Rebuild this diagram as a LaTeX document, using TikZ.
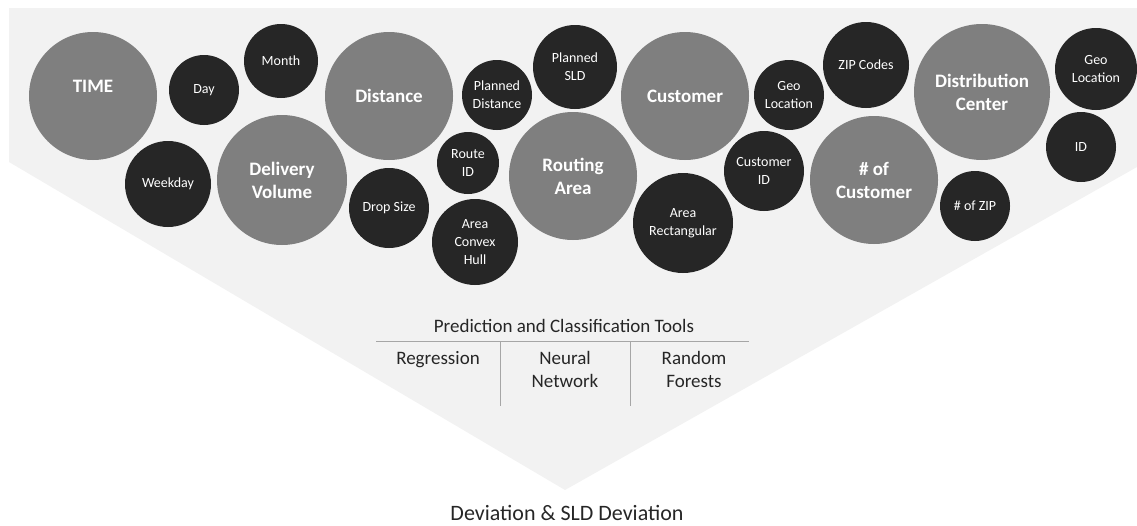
\documentclass[tikz,border=0pt]{standalone}
\usepackage{fontspec}
\setmainfont{Carlito}
\usepackage{tikz}
\usetikzlibrary{positioning}
\definecolor{funnelgray}{HTML}{F2F2F2}
\definecolor{bubgray}{HTML}{7F7F7F}
\definecolor{bubdark}{HTML}{262626}
\definecolor{rulegray}{HTML}{A6A6A6}
\tikzset{%
       bigbub/.style = { circle, fill=bubgray, text=white, inner sep=0pt, align=center, font=\fontsize{19}{23}\bfseries\selectfont },
     smallbub/.style = { circle, fill=bubdark, text=white, inner sep=0pt, align=center, font=\fontsize{14}{18}\selectfont },
          rad/.style = { minimum size={2*#1pt} },
      bubtext/.style = { text=white, inner sep=0pt, font=\fontsize{19}{23}\bfseries\selectfont },
      tabtext/.style = { text=bubdark, inner sep=0pt, align=center, font=\fontsize{19}{23}\selectfont },
         rule/.style = { rulegray, line width=1pt }
}

\begin{document}
\begin{tikzpicture}[x=1pt,y=-1pt]
\useasboundingbox (0,0) rectangle (1137,525);
% funnel
\fill[funnelgray] (9,8) -- (1137,8) -- (1137,167) -- (565,490) -- (9,162) -- cycle;
% big bubbles
\node[bigbub,rad=64,label={[bubtext,yshift=10pt]center:TIME}] (time) at (93,96) {};
\node[bigbub,rad=65] (volume) at (282,180) {Delivery\\Volume};
\node[bigbub,rad=64] (dist) at (389,96) {Distance};
\node[bigbub,rad=64] (area) at (573,176) {Routing\\Area};
\node[bigbub,rad=64] (cust) at (685,96) {Customer};
\node[bigbub,rad=64] (ncust) at (874,180) {\# of\\Customer};
\node[bigbub,rad=68] (dc) at (982,92) {Distribution\\Center};
% small bubbles
\node[smallbub,rad=35] (day) at (204,90) {Day};
\node[smallbub,rad=37] (month) at (281,61) {Month};
\node[smallbub,rad=43] (weekday) at (168,184) {Weekday};
\node[smallbub,rad=35] (pdist) at (497,95) {Planned\\Distance};
\node[smallbub,rad=42] (psld) at (575,67) {Planned\\SLD};
\node[smallbub,rad=31] (route) at (468,163) {Route\\ID};
\node[smallbub,rad=40] (drop) at (389,208) {Drop Size};
\node[smallbub,rad=43] (hull) at (475,242) {Area\\Convex\\Hull};
\node[smallbub,rad=50] (rect) at (683,223) {Area\\Rectangular};
\node[smallbub,rad=35] (cgeo) at (789,95) {Geo\\Location};
\node[smallbub,rad=40] (cid) at (764,171) {Customer\\ID};
\node[smallbub,rad=43] (zip) at (866,65) {ZIP Codes};
\node[smallbub,rad=35] (nzip) at (975,206) {\# of ZIP};
\node[smallbub,rad=41] (dgeo) at (1096,69) {Geo\\Location};
\node[smallbub,rad=35] (dcid) at (1081,147) {ID};
% tools table
\node[tabtext,anchor=base] (tools) at (564,332) {Prediction and Classification Tools};
\coordinate (rulel) at (376,341);
\coordinate (ruler) at (749,341);
\coordinate (sepa) at (500,341);
\coordinate (sepb) at (630,341);
\draw[rule] (rulel) -- (ruler);
\draw[rule] (sepa) -- ++(0,65);
\draw[rule] (sepb) -- ++(0,65);
\node[tabtext,anchor=base] (regr) at (438,364) {Regression};
\node[tabtext] (neural) at (565,369) {Neural\\Network};
\node[tabtext] (forest) at (694,369) {Random\\Forests};
% output
\node[tabtext,anchor=base,font=\fontsize{22}{26}\selectfont] (dev) at (567,520) {Deviation \& SLD Deviation};
\end{tikzpicture}
\end{document}
